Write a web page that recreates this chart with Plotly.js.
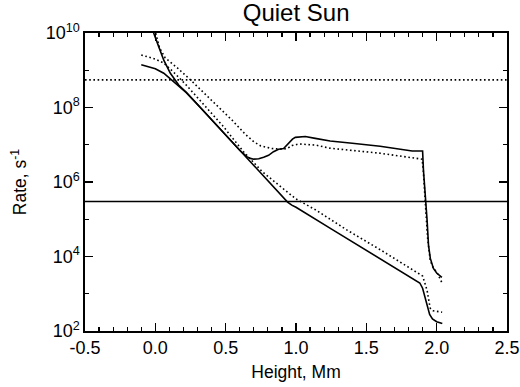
<!DOCTYPE html>
<html>
<head>
<meta charset="utf-8">
<script src="https://cdn.plot.ly/plotly-3.0.1.min.js"></script>
<style>html,body{margin:0;padding:0;background:#fff;}#chart{width:520px;height:387px;}</style>
</head>
<body>
<div id="chart"></div>
<script>
// Solid curve 1: starts near -0.1, follows lower branch
const solidLowerX = [-0.10, -0.05, 0.00, 0.06, 0.13, 0.22, 0.32, 0.45, 0.63, 0.80, 0.94, 0.97, 1.00, 1.25, 1.50, 1.75, 1.88, 1.90, 1.915, 1.93, 1.95, 1.97, 2.00, 2.04];
const solidLowerY = [1.41e9, 1.26e9, 1.10e9, 8.3e8, 5.0e8, 2.5e8, 1.0e8, 2.95e7, 5.5e6, 1.1e6, 2.9e5, 2.4e5, 2.1e5, 5.5e4, 1.48e4, 3.9e3, 1.95e3, 1.41e3, 8.9e2, 5.0e2, 2.8e2, 2.1e2, 1.78e2, 1.58e2];

// Solid curve 2: steep from top, upper (plateau) branch
const solidUpperX = [-0.02, -0.011, 0.024, 0.060, 0.107, 0.166, 0.22, 0.32, 0.45, 0.60, 0.65, 0.675, 0.70, 0.735, 0.77, 0.805, 0.84, 0.876, 0.912, 0.947, 0.975, 0.995, 1.066, 1.137, 1.243, 1.40, 1.598, 1.826, 1.90, 1.906, 1.925, 1.932, 1.942, 1.955, 1.977, 2.00, 2.037];
const solidUpperY = [1.78e10, 9.8e9, 4.3e9, 1.86e9, 8.3e8, 4.0e8, 2.57e8, 1.0e8, 2.95e7, 7.1e6, 4.8e6, 4.3e6, 4.1e6, 4.2e6, 4.6e6, 5.2e6, 6.5e6, 7.6e6, 7.9e6, 1.1e7, 1.41e7, 1.58e7, 1.66e7, 1.48e7, 1.26e7, 1.1e7, 9.1e6, 6.8e6, 6.8e6, 2.1e6, 2.9e5, 9.3e4, 2.0e4, 8.9e3, 4.8e3, 3.6e3, 2.75e3];

// Dotted curve 1: starts near -0.1, lower branch
const dottedLowerX = [-0.10, 0.00, 0.06, 0.13, 0.22, 0.32, 0.48, 0.63, 0.70, 0.76, 0.85, 0.92, 1.00, 1.14, 1.36, 1.60, 1.88, 1.90, 1.915, 1.932, 1.945, 1.954, 1.975, 2.039];
const dottedLowerY = [2.57e9, 2.0e9, 1.55e9, 8.9e8, 4.0e8, 1.51e8, 3.2e7, 6.3e6, 3.2e6, 1.9e6, 1.0e6, 6.0e5, 3.5e5, 1.78e5, 5.2e4, 1.51e4, 3.5e3, 3.0e3, 2.0e3, 1.23e3, 6.3e2, 4.1e2, 3.5e2, 3.2e2];

// Dotted curve 2: steep from top, upper (plateau) branch
const dottedUpperX = [-0.005, 0.03, 0.07, 0.155, 0.25, 0.35, 0.46, 0.55, 0.64, 0.70, 0.75, 0.83, 0.90, 0.936, 0.972, 1.02, 1.14, 1.24, 1.60, 1.897, 1.905, 1.918, 1.928, 1.935, 1.954, 1.975, 2.001, 2.037];
const dottedUpperY = [1.26e10, 4.0e9, 2.14e9, 1.17e9, 5.5e8, 2.34e8, 9.5e7, 4.4e7, 1.9e7, 1.2e7, 9.3e6, 7.9e6, 7.6e6, 7.9e6, 9.5e6, 1.05e7, 9.8e6, 8.1e6, 5.9e6, 4.1e6, 2.0e6, 4.0e5, 1.0e5, 3.3e4, 7.9e3, 5.0e3, 3.8e3, 2.0e3];

// Horizontal reference levels
const levelSolid = 3.0e5;
const levelDotted = 5.5e8;
const xSpan = [-0.5, 2.5];

// Ticks
const xTickVals = [-0.5, 0.0, 0.5, 1.0, 1.5, 2.0, 2.5];
const xTickText = ['-0.5', '0.0', '0.5', '1.0', '1.5', '2.0', '2.5'];
const yTickVals = [1e2, 1e4, 1e6, 1e8, 1e10];
const yTickText = ['10<sup>2</sup>', '10<sup>4</sup>', '10<sup>6</sup>', '10<sup>8</sup>', '10<sup>10</sup>'];
const yMinorVals = [1e3, 1e5, 1e7, 1e9];

const LW = 1.6;
const DOT = '1.6px,2.6px';
const font = 'Liberation Sans, Arial, Helvetica, sans-serif';

const traces = [
  {x: solidLowerX, y: solidLowerY, mode: 'lines', line: {color: '#000', width: LW}},
  {x: solidUpperX, y: solidUpperY, mode: 'lines', line: {color: '#000', width: LW}},
  {x: dottedLowerX, y: dottedLowerY, mode: 'lines', line: {color: '#000', width: LW, dash: DOT}},
  {x: dottedUpperX, y: dottedUpperY, mode: 'lines', line: {color: '#000', width: LW, dash: DOT}},
  {x: xSpan, y: [levelSolid, levelSolid], mode: 'lines', line: {color: '#000', width: LW}},
  {x: xSpan, y: [levelDotted, levelDotted], mode: 'lines', line: {color: '#000', width: LW, dash: DOT}}
];

const layout = {
  width: 520, height: 387,
  margin: {l: 85, r: 13, t: 33, b: 56},
  paper_bgcolor: '#fff', plot_bgcolor: '#fff',
  showlegend: false,
  font: {family: font, color: '#000', size: 18},
  title: {text: 'Quiet Sun', font: {family: font, size: 24, color: '#000'}, x: 0.5695, xanchor: 'center', y: 0.967, yanchor: 'middle', yref: 'container'},
  xaxis: {
    range: [-0.5, 2.5], tickmode: 'array', tickvals: xTickVals, ticktext: xTickText,
    ticks: 'inside', ticklen: 8, tickwidth: 1.3, tickcolor: '#000',
    showline: true, linewidth: 1.6, linecolor: '#000', mirror: 'ticks',
    showgrid: false, zeroline: false,
    tickfont: {family: font, size: 18, color: '#000'},
    minor: {dtick: 0.1, ticks: 'inside', ticklen: 4, tickwidth: 1.2, tickcolor: '#000', showgrid: false},
    title: {text: 'Height, Mm', font: {family: font, size: 17.5, color: '#000'}, standoff: 8}
  },
  yaxis: {
    type: 'log', range: [2, 10], tickmode: 'array', tickvals: yTickVals, ticktext: yTickText,
    ticks: 'inside', ticklen: 8, tickwidth: 1.3, tickcolor: '#000',
    showline: true, linewidth: 1.6, linecolor: '#000', mirror: 'ticks',
    showgrid: false, zeroline: false,
    tickfont: {family: font, size: 18, color: '#000'},
    minor: {tickmode: 'array', tickvals: yMinorVals, ticks: 'inside', ticklen: 4, tickwidth: 1.2, tickcolor: '#000', showgrid: false},
    title: {text: 'Rate, s<sup>-1</sup>', font: {family: font, size: 17.5, color: '#000'}, standoff: 14}
  }
};

Plotly.newPlot('chart', traces, layout, {displayModeBar: false, staticPlot: true});
</script>
</body>
</html>
